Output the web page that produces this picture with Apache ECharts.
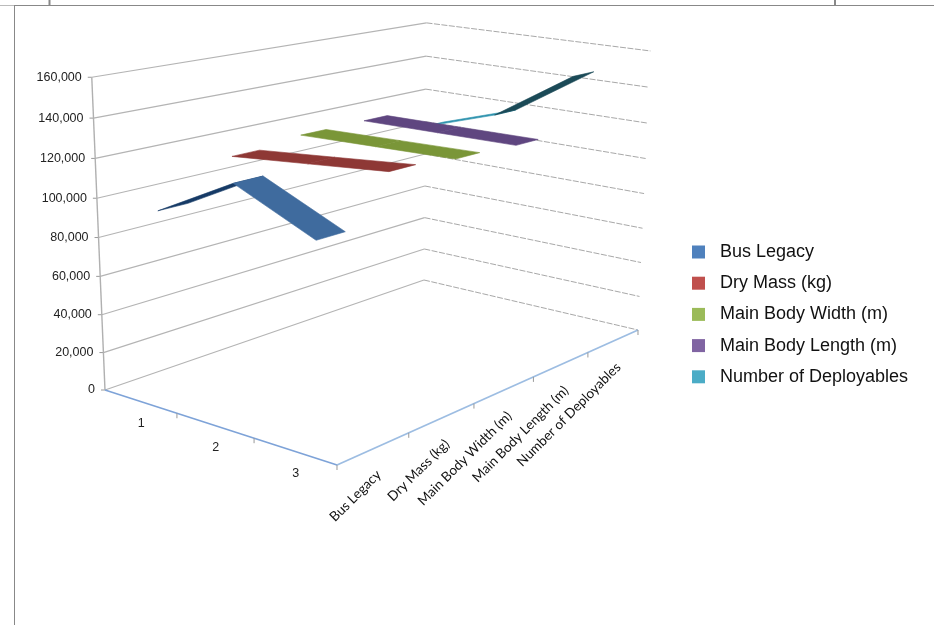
<!DOCTYPE html>
<html>
<head>
<meta charset="utf-8">
<style>html,body{margin:0;padding:0;background:#fff}#chart{width:934px;height:625px}</style>
<script src="https://cdn.jsdelivr.net/npm/echarts@6/dist/echarts.min.js"></script>
</head>
<body>
<div id="chart"></div>
<script>
// Category labels along the two floor axes
var rowLabels = ['1', '2', '3'];
var seriesNames = ['Bus Legacy', 'Dry Mass (kg)', 'Main Body Width (m)', 'Main Body Length (m)', 'Number of Deployables'];
var valueTicks = [0, 20000, 40000, 60000, 80000, 100000, 120000, 140000, 160000];

// Values per row for each series
var busLegacy = [94900, 116800, 98200];
var dryMass = [113700, 117500, 121400];
var mainBodyWidth = [116800, 117900, 118950];
var mainBodyLength = [116950, 117300, 117700];
var numberOfDeployables = [105600, 119500, 147500];

var valueMax = 160000;
var stripHalfDepth = 0.195;

// Perspective camera for the 3D area plot: s runs along the rows,
// t along the series, r up the value axis (all normalised to 0..1).
function project(row, depth, value) {
  var s = row / rowLabels.length, t = depth / seriesNames.length, r = value / valueMax;
  var w = 1 - 0.10127 * s + 0.22656 * t - 0.0487 * r;
  return [
    (197.87 * s + 415.06 * t - 17.7 * r + 105) / w,
    (27.91 * s - 46.56 * t - 316.5 * r + 390) / w
  ];
}

var gridLine = '#b4b4b4';
var tickLine = '#999999';

function segment(api, a, b, style) {
  var p = api.coord(a), q = api.coord(b);
  return { type: 'line', shape: { x1: p[0], y1: p[1], x2: q[0], y2: q[1] }, style: style };
}

// Wall gridlines, value ticks and value labels
function renderWalls(params, api) {
  var v = api.value(0);
  var nRows = rowLabels.length, nSeries = seriesNames.length;
  var front = project(0, 0, v), back = project(0, nSeries, v), side = project(nRows, nSeries, v);
  var anchor = api.coord(front);
  return {
    type: 'group',
    children: [
      segment(api, front, back, { stroke: gridLine, lineWidth: 1.2 }),
      segment(api, back, side, { stroke: '#a8a8a8', lineWidth: 1, lineDash: [6, 1.5] }),
      segment(api, front, [front[0] - 4, front[1]], { stroke: tickLine, lineWidth: 1 }),
      {
        type: 'text', x: anchor[0] - 10, y: anchor[1],
        style: {
          text: v === 0 ? '0' : v.toLocaleString('en-US'),
          align: 'right', verticalAlign: 'middle',
          font: '12.5px "Liberation Sans"', fill: '#222222'
        }
      }
    ]
  };
}

// Floor axis lines, vertical axis, ticks and category labels
function renderFloor(params, api) {
  var nRows = rowLabels.length, nSeries = seriesNames.length;
  var children = [
    segment(api, project(0, 0, 0), project(0, 0, valueMax), { stroke: '#b0b0b0', lineWidth: 1.4 }),
    segment(api, project(0, 0, 0), project(nRows, 0, 0), { stroke: '#7ea3d8', lineWidth: 1.6 }),
    segment(api, project(nRows, 0, 0), project(nRows, nSeries, 0), { stroke: '#9dbde2', lineWidth: 1.8 })
  ];
  rowLabels.forEach(function (label, i) {
    var tick = project(i + 1, 0, 0), mid = api.coord(project(i + 0.5, 0, 0));
    children.push(segment(api, tick, [tick[0], tick[1] + 5], { stroke: tickLine, lineWidth: 1 }));
    children.push({
      type: 'text', x: mid[0] + 1, y: mid[1] + 22,
      style: { text: label, align: 'center', verticalAlign: 'middle', font: '12.5px "Liberation Sans"', fill: '#222222' }
    });
  });
  seriesNames.forEach(function (label, i) {
    var tick = project(nRows, i + 1, 0), mid = api.coord(project(nRows, i + 0.5, 0));
    children.push(segment(api, tick, [tick[0], tick[1] + 5], { stroke: tickLine, lineWidth: 1 }));
    children.push({
      type: 'text', x: mid[0] + 5, y: mid[1] + 24, rotation: Math.PI / 4,
      style: { text: label, align: 'right', verticalAlign: 'middle', font: '13.5px Lato', fill: '#111111' }
    });
  });
  return { type: 'group', children: children };
}

// One band of a series: the strip between two neighbouring rows
function renderStrip(depth, faces) {
  return function (params, api) {
    var i = api.value(0), a = api.value(1), b = api.value(2);
    var pts = [
      project(i + 0.5, depth - stripHalfDepth, a),
      project(i + 1.5, depth - stripHalfDepth, b),
      project(i + 1.5, depth + stripHalfDepth, b),
      project(i + 0.5, depth + stripHalfDepth, a)
    ].map(function (p) { return api.coord(p); });
    return {
      type: 'polygon',
      shape: { points: pts },
      style: { fill: faces[i], stroke: faces[i], lineWidth: 0.6 }
    };
  };
}

function bands(values) {
  return values.slice(0, -1).map(function (v, i) { return [i, v, values[i + 1]]; });
}

function areaSeries(name, values, depth, color, faces) {
  return {
    type: 'custom', name: name, coordinateSystem: 'cartesian2d',
    itemStyle: { color: color }, clip: false, silent: true,
    data: bands(values), renderItem: renderStrip(depth, faces)
  };
}

var chart = echarts.init(document.getElementById('chart'), null, { renderer: 'canvas' });
chart.setOption({
  animation: false,
  backgroundColor: '#ffffff',
  grid: { left: 0, right: 0, top: 0, bottom: 0 },
  xAxis: { type: 'value', min: 0, max: 934, show: false },
  yAxis: { type: 'value', min: 0, max: 625, inverse: true, show: false },
  legend: {
    orient: 'vertical', left: 687, top: 238, itemWidth: 13, itemHeight: 13, itemGap: 13.2,
    icon: 'rect', selectedMode: false,
    data: seriesNames,
    textStyle: { font: '18px "Liberation Sans"', fontFamily: 'Liberation Sans', fontSize: 18, color: '#111111', padding: [0, 0, 0, 10] }
  },
  graphic: [
    { type: 'line', shape: { x1: 14, y1: 5.5, x2: 934, y2: 5.5 }, style: { stroke: '#888888', lineWidth: 1 } },
    { type: 'line', shape: { x1: 0, y1: 5.5, x2: 14, y2: 5.5 }, style: { stroke: '#bbbbbb', lineWidth: 1 } },
    { type: 'line', shape: { x1: 14.5, y1: 5, x2: 14.5, y2: 625 }, style: { stroke: '#888888', lineWidth: 1 } },
    { type: 'line', shape: { x1: 49.5, y1: 0, x2: 49.5, y2: 5 }, style: { stroke: '#888888', lineWidth: 2 } },
    { type: 'line', shape: { x1: 835, y1: 0, x2: 835, y2: 5 }, style: { stroke: '#888888', lineWidth: 2 } }
  ],
  series: [
    { type: 'custom', coordinateSystem: 'cartesian2d', clip: false, silent: true, data: valueTicks.map(function (v) { return [v]; }), renderItem: renderWalls },
    { type: 'custom', coordinateSystem: 'cartesian2d', clip: false, silent: true, data: [[0]], renderItem: renderFloor },
    areaSeries(seriesNames[4], numberOfDeployables, 4.5, '#4bacc6', ['#2f93ae', '#1b4a57']),
    areaSeries(seriesNames[3], mainBodyLength, 3.5, '#8064a2', ['#5f4680', '#5f4680']),
    areaSeries(seriesNames[2], mainBodyWidth, 2.5, '#9bbb59', ['#7a9638', '#7a9638']),
    areaSeries(seriesNames[1], dryMass, 1.5, '#c0504d', ['#8e3835', '#8e3835']),
    areaSeries(seriesNames[0], busLegacy, 0.5, '#4f81bd', ['#163a66', '#3f6b9e'])
  ]
});
</script>
</body>
</html>
